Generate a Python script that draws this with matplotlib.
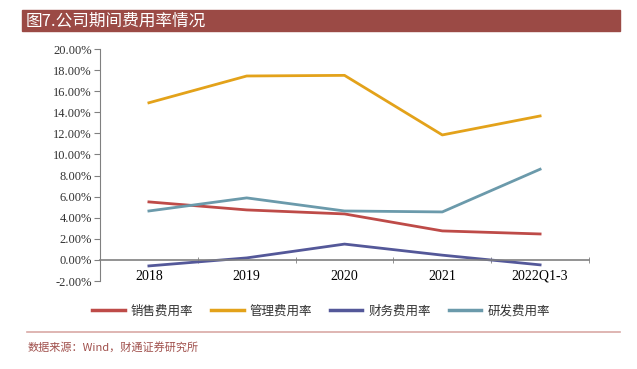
import matplotlib as mpl
import matplotlib.pyplot as plt
from matplotlib.patches import Rectangle
from matplotlib.lines import Line2D

cjk = ['Noto Sans CJK SC', 'DejaVu Sans']
serif = ['Liberation Serif', 'Noto Sans CJK SC']
mpl.rcParams['font.family'] = serif

# data (percent)
years = ["2018", "2019", "2020", "2021", "2022Q1-3"]
sales = [5.5, 4.74, 4.36, 2.75, 2.46]
admin = [14.9, 17.44, 17.5, 11.85, 13.65]
finance = [-0.57, 0.19, 1.5, 0.45, -0.47]
rnd = [4.64, 5.88, 4.64, 4.55, 8.6]
labels = ["销售费用率", "管理费用率", "财务费用率", "研发费用率"]
colors = ["#BE4B48", "#E3A21A", "#545899", "#6B9AAB"]

fig = plt.figure(figsize=(6.37, 3.69), dpi=100)

# title bar
fig.patches.append(Rectangle((22 / 637, 1 - 31 / 369), 598 / 637, 21 / 369,
                             transform=fig.transFigure, color="#9B4A45", zorder=0))
fig.text(26 / 637, 1 - 21 / 369, "图7.公司期间费用率情况", color="white",
         fontsize=12, family=cjk, va="center", ha="left")

ax = fig.add_axes([100 / 637, 1 - 281 / 369, 489 / 637, 232 / 369])
x = range(len(years))
for vals, c, lab in zip([sales, admin, finance, rnd], colors, labels):
    ax.plot(x, vals, color=c, lw=2, label=lab)

ax.set_xlim(-0.5, 4.5)
ax.set_ylim(-2, 20)
ax.set_yticks(range(-2, 21, 2))
ax.set_yticklabels([f"{v:.2f}%" for v in range(-2, 21, 2)], fontsize=9, color="#333333")
ax.set_xticks(x)
ax.set_xticklabels(years, fontsize=9, color="#333333")
ax.set_xticks([i + 0.5 for i in range(-1, 5)], minor=True)
ax.tick_params(axis="x", which="major", length=0, pad=7)
ax.tick_params(axis="x", which="minor", length=4, direction="inout", color="#808080")
ax.tick_params(axis="y", length=4, color="#808080", pad=2)
for s in ["top", "right"]:
    ax.spines[s].set_visible(False)
ax.spines["bottom"].set_position(("data", 0))
ax.spines["bottom"].set_color("#808080")
ax.spines["bottom"].set_linewidth(1.2)
ax.spines["left"].set_color("#808080")

handles = [Line2D([], [], color=c, lw=2.5) for c in colors]
leg = fig.legend(handles, labels, loc="center", bbox_to_anchor=(321 / 637, 1 - 311 / 369),
                 ncol=4, frameon=False, handlelength=2.6, columnspacing=1.4,
                 handletextpad=0.5, prop={"family": cjk, "size": 9})
for t in leg.get_texts():
    t.set_color("#333333")

# bottom separator and source
fig.add_artist(Line2D([27 / 637, 620 / 637], [1 - 332 / 369] * 2,
                      transform=fig.transFigure, color="#D9A9A6", lw=1.2))
fig.text(28 / 637, 1 - 347 / 369, "数据来源：Wind，财通证券研究所", color="#A0504C",
         fontsize=8, family=cjk, va="center", ha="left")

fig.savefig("out.png", dpi=100)
